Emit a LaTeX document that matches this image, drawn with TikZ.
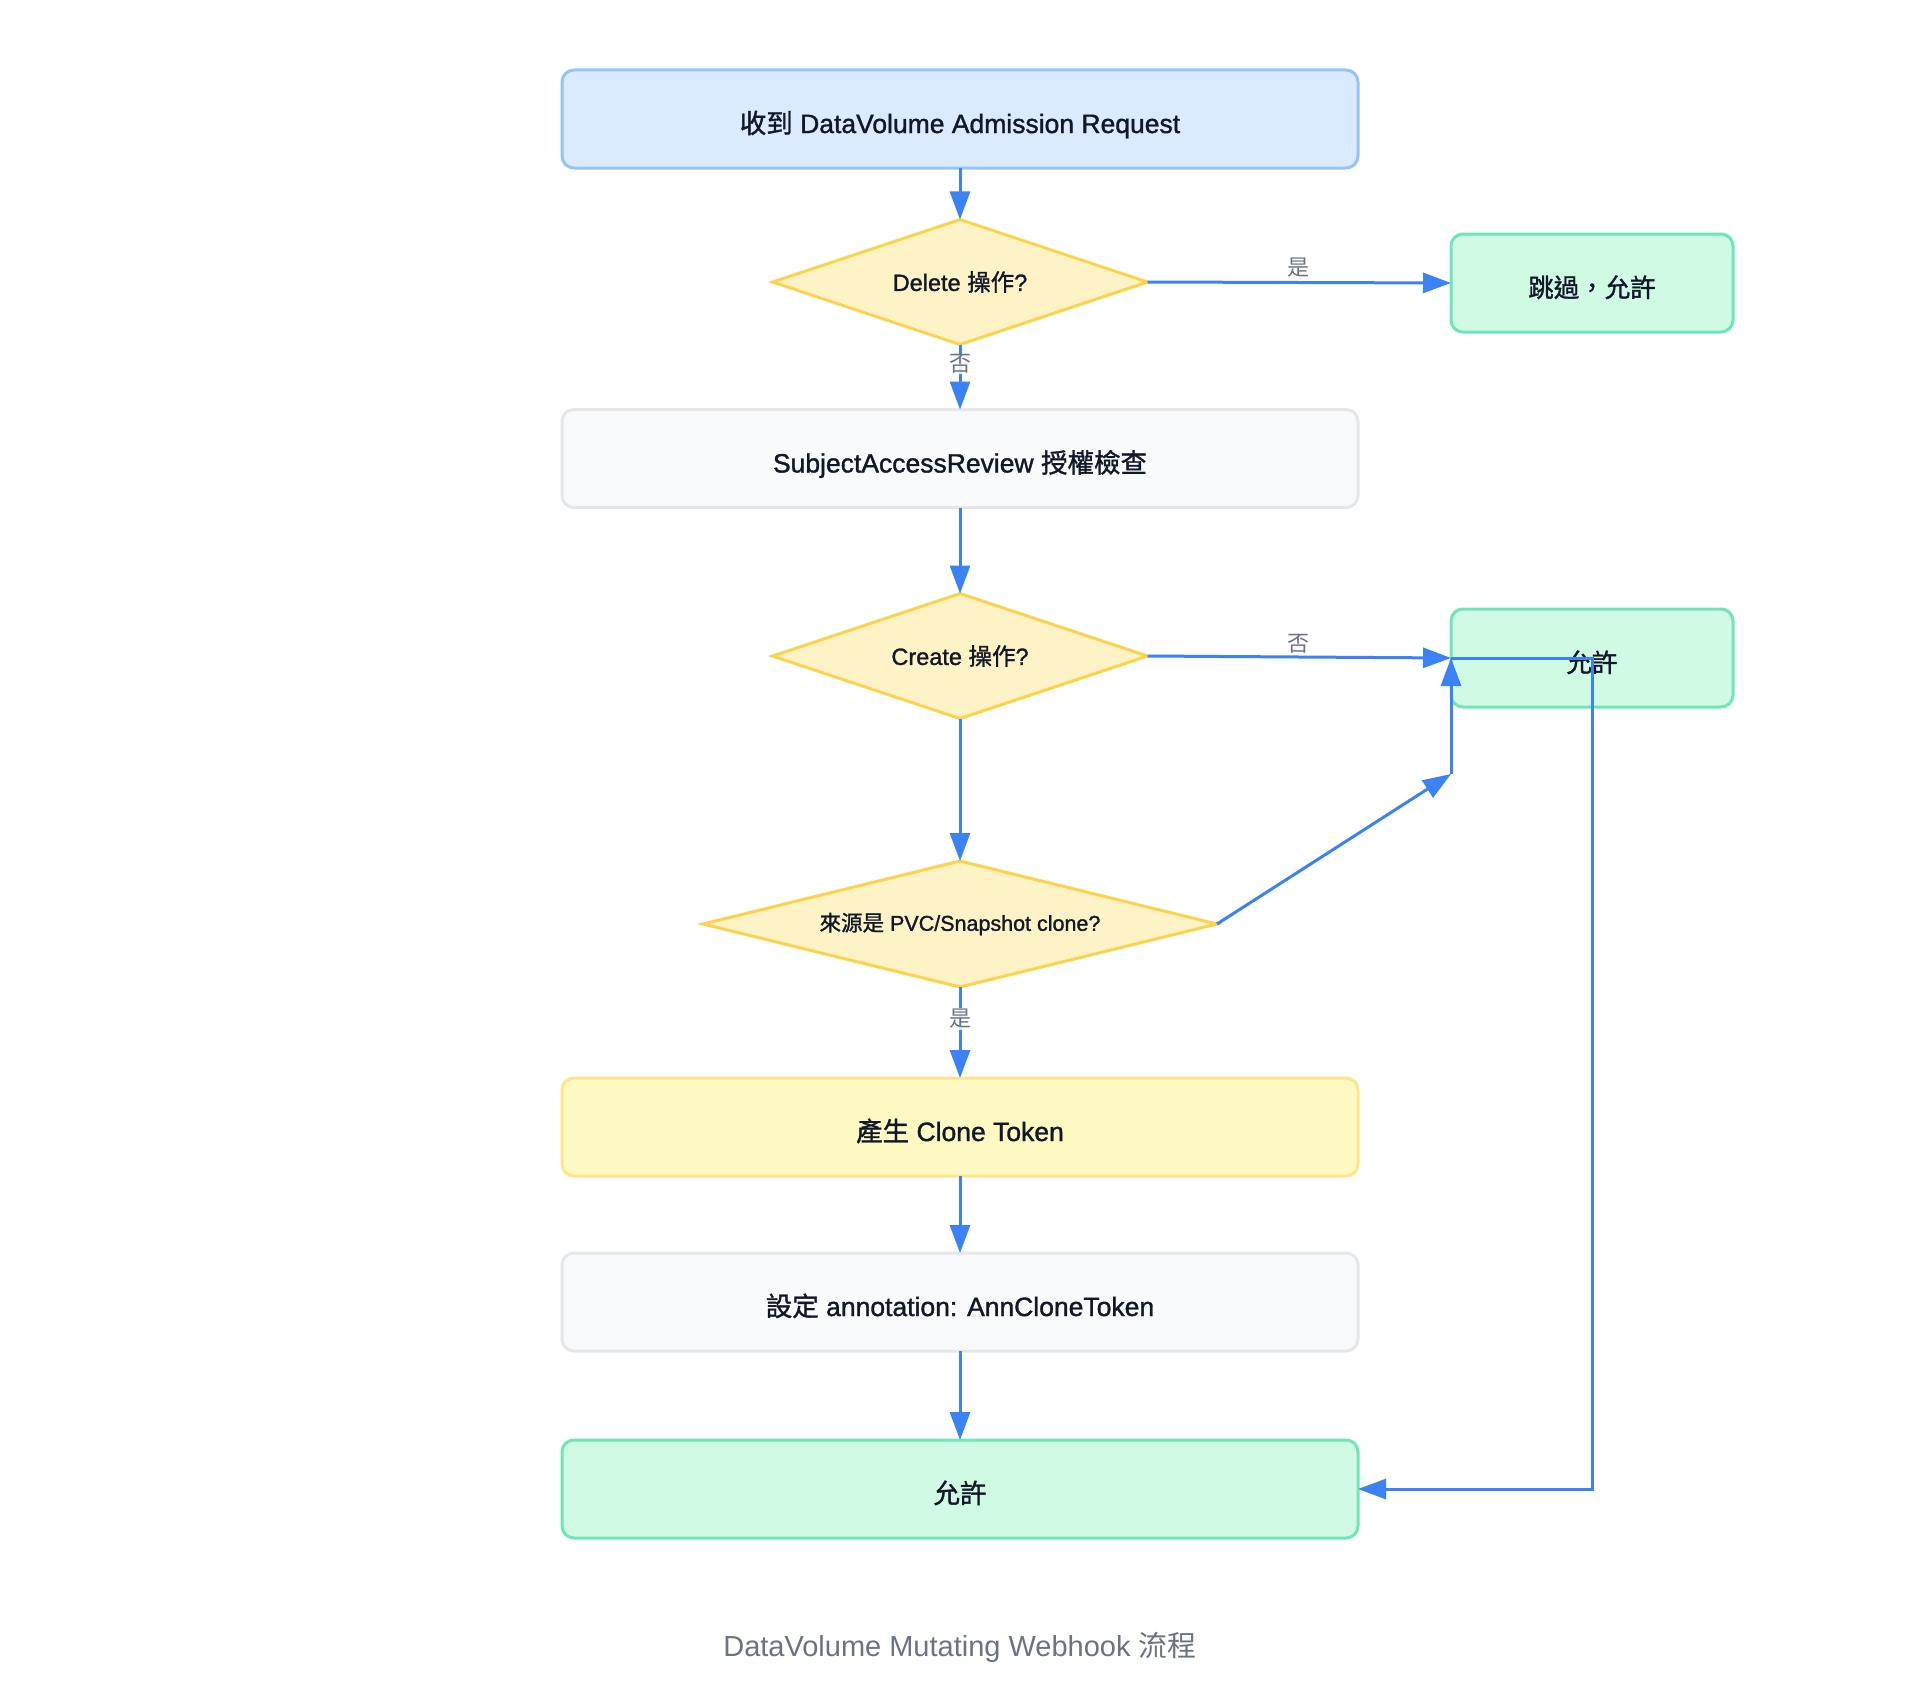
\documentclass[tikz,border=0pt]{standalone}
\usepackage{fontspec}
\setmainfont{Liberation Sans}
\newfontfamily\latmed{Liberation Sans}[FakeBold=1.3]
\newfontfamily\cjkmed{Noto Sans CJK TC}[FakeBold=1.3]
\newfontfamily\cjkreg{Noto Sans CJK TC}
\newcommand{\CM}[1]{{\cjkmed #1}}
\newcommand{\CR}[1]{{\cjkreg #1}}
\usetikzlibrary{shapes.geometric,arrows.meta}
\definecolor{bluefill}{HTML}{DBEAFE}
\definecolor{bluestroke}{HTML}{93C5FD}
\definecolor{amberfill}{HTML}{FEF3C7}
\definecolor{amberstroke}{HTML}{FCD34D}
\definecolor{greenfill}{HTML}{D1FAE5}
\definecolor{greenstroke}{HTML}{6EE7B7}
\definecolor{grayfill}{HTML}{F9FAFB}
\definecolor{graystroke}{HTML}{E5E7EB}
\definecolor{yelfill}{HTML}{FEF9C3}
\definecolor{yelstroke}{HTML}{FDE68A}
\definecolor{arrowblue}{HTML}{3B82F6}
\definecolor{txt}{HTML}{111827}
\definecolor{lblgray}{HTML}{6B7280}
\tikzset{
  box/.style={draw, rounded corners=12pt, line width=3pt, minimum width=796pt,
    minimum height=98pt, inner sep=0pt, outer sep=0pt, text height=28pt, text depth=0pt,
    font=\latmed\fontsize{26.5}{31}\selectfont, text=txt},
  bluebox/.style={box, draw=bluestroke, fill=bluefill},
  graybox/.style={box, draw=graystroke, fill=grayfill},
  greenbox/.style={box, draw=greenstroke, fill=greenfill},
  yelbox/.style={box, draw=yelstroke, fill=yelfill},
  sidebox/.style={minimum width=282pt, font=\latmed\fontsize{25.5}{30}\selectfont},
  dec/.style={diamond, aspect=4, draw=amberstroke, fill=amberfill, line width=3pt,
    inner sep=0pt, outer sep=0pt, minimum width=375pt, minimum height=125pt,
    font=\latmed\fontsize{23.5}{28}\selectfont, text=txt},
  arr/.style={draw=arrowblue, line width=3pt, -{Triangle[length=28pt,width=20pt]}},
  lbl/.style={font=\cjkreg\fontsize{22}{26}\selectfont, text=lblgray, inner sep=1pt},
  vlbl/.style={lbl, fill=white, fill opacity=0.85, text opacity=1},
}
\begin{document}
\begin{tikzpicture}[x=1pt,y=-1pt]
\useasboundingbox (0,0) rectangle (1920,1686);
\node[bluebox] (top) at (960,119) {\CM{收到} DataVolume Admission Request};
\node[dec] (del) at (960,282) {Delete \CM{操作}?};
\node[greenbox, sidebox] (skip) at (1592,283) {\CM{跳過，允許}};
\node[graybox] (sar) at (960,458.5) {SubjectAccessReview \CM{授權檢查}};
\node[dec] (cre) at (960,656) {Create \CM{操作}?};
\node[greenbox, sidebox] (allow1) at (1592,658) {\CM{允許}};
\node[dec, minimum width=514pt, minimum height=126pt, font=\latmed\fontsize{21.5}{26}\selectfont] (clone) at (960,924) {\CM{來源是} PVC/Snapshot clone?};
\node[yelbox] (token) at (960,1127) {\CM{產生} Clone Token};
\node[graybox] (annot) at (960,1302) {\CM{設定} annotation: AnnCloneToken};
\node[greenbox] (allow2) at (960,1489) {\CM{允許}};
\node[font=\fontsize{29}{34}\selectfont, text=lblgray] (cap) at (960,1647) {DataVolume Mutating Webhook \CR{流程}};
\coordinate (bend) at (1451,774);

\draw[arr] (top) -- (del);
\draw[arr] (del.east) -- (skip.west);
\node[lbl] (l1) at (1298,268) {是};
\draw[arr] (del.south) -- (sar.north);
\node[vlbl] (l2) at (960,364) {否};
\draw[arr] (sar) -- (cre);
\draw[arr] (cre.east) -- (allow1.west);
\node[lbl] (l3) at (1298,644) {否};
\draw[arr] (cre.south) -- (clone.north);
\draw[arr] (clone.east) -- (bend);
\draw[arr] (bend) -- (allow1.west);
\draw[arr] (allow1.west) -- (allow1.center) |- (allow2.east);
\draw[arr] (clone.south) -- (token.north);
\node[vlbl] (l4) at (960,1019) {是};
\draw[arr] (token) -- (annot);
\draw[arr] (annot) -- (allow2);
\end{tikzpicture}
\end{document}
